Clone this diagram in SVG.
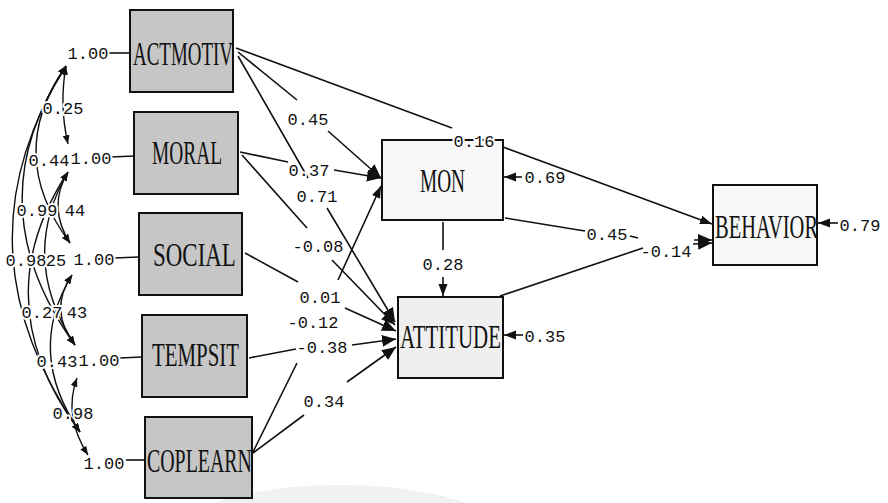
<svg xmlns="http://www.w3.org/2000/svg" width="888" height="503" viewBox="0 0 888 503">
<style>
.ex{fill:#c6c6c6;stroke:#111;stroke-width:2}
.en{fill:#f7f7f7;stroke:#111;stroke-width:2}
.nm{font-family:"Liberation Serif",serif;font-size:33px;fill:#111}
.ln{fill:none;stroke:#111;stroke-width:1.6}
.arc{fill:none;stroke:#111;stroke-width:1.4}
.num{font-family:"Liberation Mono",monospace;font-size:17px;fill:#111;text-anchor:middle;paint-order:stroke;stroke:#fff;stroke-width:4px;stroke-linejoin:round}
</style>
<defs>
<marker id="ah" viewBox="0 0 12 10" refX="12" refY="5" markerWidth="12" markerHeight="10" markerUnits="userSpaceOnUse" orient="auto"><path d="M0,0.5 L12,5 L0,9.5 z" fill="#111"/></marker>
<marker id="ab" viewBox="0 0 14 12" refX="14" refY="6" markerWidth="14" markerHeight="12" markerUnits="userSpaceOnUse" orient="auto"><path d="M0,0 L14,6 L0,12 z" fill="#111"/></marker>
<marker id="as" viewBox="0 0 10 8" refX="10" refY="4" markerWidth="9" markerHeight="7" markerUnits="userSpaceOnUse" orient="auto-start-reverse"><path d="M0,0 L10,4 L0,8 z" fill="#111"/></marker>
</defs>
<rect x="0" y="0" width="888" height="503" fill="#fff"/>
<ellipse cx="340" cy="540" rx="170" ry="55" fill="#f1f1f1"/>

<g id="ACTMOTIV"><rect class="ex" x="130" y="10" width="103" height="82"/><text class="nm" transform="translate(133,65) scale(0.61,1)" textLength="164" lengthAdjust="spacingAndGlyphs">ACTMOTIV</text></g>
<g id="MORAL"><rect class="ex" x="134" y="112" width="104" height="82"/><text class="nm" transform="translate(152,164) scale(0.625,1)" textLength="112" lengthAdjust="spacingAndGlyphs">MORAL</text></g>
<g id="SOCIAL"><rect class="ex" x="139" y="213" width="103" height="82"/><text class="nm" transform="translate(153,266) scale(0.74,1)" textLength="112" lengthAdjust="spacingAndGlyphs">SOCIAL</text></g>
<g id="TEMPSIT"><rect class="ex" x="142" y="315" width="105" height="82"/><text class="nm" transform="translate(152,366) scale(0.674,1)" textLength="129" lengthAdjust="spacingAndGlyphs">TEMPSIT</text></g>
<g id="COPLEARN"><rect class="ex" x="145" y="417" width="107" height="81"/><text class="nm" transform="translate(147,472) scale(0.642,1)" textLength="163.5" lengthAdjust="spacingAndGlyphs">COPLEARN</text></g>
<g id="MON"><rect class="en" x="382" y="140" width="121" height="80"/><text class="nm" transform="translate(420,192) scale(0.62,1)" textLength="72.6" lengthAdjust="spacingAndGlyphs">MON</text></g>
<g id="ATTITUDE"><rect class="en" x="398" y="297" width="105" height="81" style="fill:#efefef"/><text class="nm" transform="translate(400,348) scale(0.66,1)" textLength="153" lengthAdjust="spacingAndGlyphs">ATTITUDE</text></g>
<g id="BEHAVIOR"><rect class="en" x="713" y="185" width="104" height="80"/><text class="nm" transform="translate(715,238) scale(0.644,1)" textLength="160" lengthAdjust="spacingAndGlyphs">BEHAVIOR</text></g>

<g id="connectors">
<!-- variances -->
<path class="ln" d="M108,53 L130,53"/>
<path class="ln" d="M111,157 L134,156"/>
<path class="ln" d="M114,258 L139,257"/>
<path class="ln" d="M120,358 L142,357"/>
<path class="ln" d="M126,460 L145,460"/>
<!-- covariance arcs -->
<path class="arc" marker-start="url(#as)" marker-end="url(#as)" d="M66,66 Q59,105 68,144"/>
<path class="arc" marker-start="url(#as)" marker-end="url(#as)" d="M68,172 Q47,207 70,243"/>
<path class="arc" marker-start="url(#as)" marker-end="url(#as)" d="M72,275 Q48,310 75,345"/>
<path class="arc" marker-start="url(#as)" marker-end="url(#as)" d="M77,378 Q63,416 88,455"/>
<path class="arc" marker-start="url(#as)" marker-end="url(#as)" d="M66,66 Q4,154 70,243"/>
<path class="arc" marker-start="url(#as)" marker-end="url(#as)" d="M68,172 Q18,258 75,345"/>
<path class="arc" marker-start="url(#as)" marker-end="url(#as)" d="M72,275 Q25,352 80,432"/>
<path class="arc" marker-start="url(#as)" marker-end="url(#as)" d="M66,66 Q-26,205 75,345"/>
<path class="arc" marker-start="url(#as)" marker-end="url(#as)" d="M68,172 Q-17,301 80,432"/>
<path class="arc" marker-start="url(#as)" marker-end="url(#as)" d="M66,66 Q-48,248 80,432"/>
<!-- structural paths -->
<path class="ln" d="M236,48 L452,128 M503,147 L712,224" marker-end="url(#ah)"/>
<path class="ln" d="M238,52 L297,100 M328,131 L381,178" marker-end="url(#ab)"/>
<path class="ln" d="M240,152 L288,162 M334,170 L381,178" marker-end="url(#ab)"/>
<path class="ln" d="M253,452 L297,363 M338,280 L381,186" marker-end="url(#ah)"/>
<path class="ln" d="M238,56 L308,178 M327,208 L395,322" marker-end="url(#ab)"/>
<path class="ln" d="M242,155 L307,228 M332,260 L395,325" marker-end="url(#ab)"/>
<path class="ln" d="M245,253 L298,282 M345,308 L396,331" marker-end="url(#ab)"/>
<path class="ln" d="M249,358 L296,349 M352,345 L396,339" marker-end="url(#ab)"/>
<path class="ln" d="M253,453 L304,415 M347,382 L396,347" marker-end="url(#ab)"/>
<path class="ln" d="M443,222 L443,250 M443,277 L443,296" marker-end="url(#ah)"/>
<path class="ln" d="M505,218 L585,231 M630,236 L638,238 M694,240 L712,240" marker-end="url(#ab)"/>
<path class="ln" d="M500,296 L643,248 M693,244 L712,243" marker-end="url(#ab)"/>
<path class="ln" d="M522,177 L504,177" marker-end="url(#ah)"/>
<path class="ln" d="M523,335 L504,335" marker-end="url(#ah)"/>
<path class="ln" d="M838,223 L818,223" marker-end="url(#ah)"/>
<!-- labels -->
<text class="num" x="88" y="59">1.00</text>
<text class="num" x="91" y="164">1.00</text>
<text class="num" x="94" y="265">1.00</text>
<text class="num" x="99" y="366">1.00</text>
<text class="num" x="104" y="469">1.00</text>
<text class="num" x="63" y="114">0.25</text>
<text class="num" x="49" y="166">0.44</text>
<text class="num" x="37" y="216">0.99</text>
<text class="num" x="75" y="216">44</text>
<text class="num" x="26" y="266">0.98</text>
<text class="num" x="56" y="266">25</text>
<text class="num" x="42" y="318">0.27</text>
<text class="num" x="77" y="318">43</text>
<text class="num" x="57" y="367">0.43</text>
<text class="num" x="73" y="419">0.98</text>
<text class="num" x="308" y="125">0.45</text>
<text class="num" x="309" y="176">0.37</text>
<text class="num" x="317" y="202">0.71</text>
<text class="num" x="318" y="252">-0.08</text>
<text class="num" x="320" y="303">0.01</text>
<text class="num" x="313" y="328">-0.12</text>
<text class="num" x="322" y="353">-0.38</text>
<text class="num" x="324" y="407">0.34</text>
<text class="num" x="474" y="147">0.16</text>
<text class="num" x="545" y="183">0.69</text>
<text class="num" x="443" y="270">0.28</text>
<text class="num" x="607" y="240">0.45</text>
<text class="num" x="666" y="257">-0.14</text>
<text class="num" x="545" y="342">0.35</text>
<text class="num" x="860" y="231">0.79</text>
</g>
</svg>
